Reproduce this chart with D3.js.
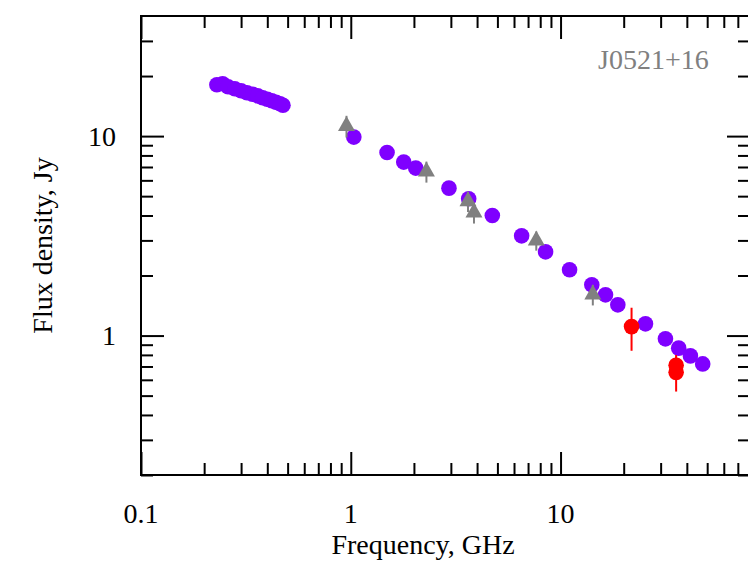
<!DOCTYPE html>
<html>
<head>
<meta charset="utf-8">
<script src="https://cdn.jsdelivr.net/npm/d3@7"></script>
<style>
  html, body { margin: 0; padding: 0; background: #fff; }
  svg { display: block; }
  text { font-family: "Liberation Serif", "Times New Roman", serif; }
</style>
</head>
<body>
<svg id="chart" width="748" height="561"></svg>
<script>
// Radio spectrum of J0521+16: frequency (GHz) vs flux density (Jy)

// Purple circles: compiled catalogue measurements
const purpleFreq = [0.230, 0.245, 0.260, 0.280, 0.300, 0.320, 0.340, 0.360, 0.380, 0.400, 0.420, 0.440, 0.460, 0.475,
                    1.034, 1.489, 1.788, 2.040, 2.938, 3.648, 4.729, 6.523, 8.484, 11.04, 14.09, 16.38, 18.75, 25.40, 31.62, 36.58, 41.59, 47.6];
const purpleFlux = [18.08, 18.29, 17.67, 17.27, 16.87, 16.49, 16.21, 15.93, 15.57, 15.30, 15.04, 14.77, 14.52, 14.27,
                    9.886, 8.274, 7.407, 6.912, 5.484, 4.849, 3.999, 3.162, 2.629, 2.136, 1.796, 1.600, 1.426, 1.145, 0.963, 0.865, 0.791, 0.721];

// Grey triangles: measurements with error bars
const greyFreq = [0.954, 2.294, 3.620, 3.866, 7.662, 14.25];
const greyFlux = [11.24, 6.645, 4.71, 4.144, 2.995, 1.606];
const greyErr  = [1.40, 0.80, 0.55, 0.50, 0.33, 0.19];

// Red circles: new measurements with error bars
const redFreq = [21.8, 35.56, 35.56];
const redFlux = [1.109, 0.709, 0.654];
const redErr  = [0.27, 0.09, 0.13];

// Axis ticks
const xMajor = [0.1, 1, 10];
const xMajorLabels = ["0.1", "1", "10"];
const xMinor = [0.2, 0.3, 0.4, 0.5, 0.6, 0.7, 0.8, 0.9, 2, 3, 4, 5, 6, 7, 8, 9, 20, 30, 40, 50, 60, 70];
const yMajor = [1, 10];
const yMajorLabels = ["1", "10"];
const yMinor = [0.2, 0.3, 0.4, 0.5, 0.6, 0.7, 0.8, 0.9, 2, 3, 4, 5, 6, 7, 8, 9, 20, 30];

const sourceName = "J0521+16";
const xTitle = "Frequency, GHz";
const yTitle = "Flux density, Jy";

const svg = d3.select("#chart");
const plot = { left: 141, right: 750, top: 16, bottom: 475 };

const x = d3.scaleLog().domain([0.1, 80]).range([plot.left, plot.right]);
const y = d3.scaleLog().domain([0.2, 40]).range([plot.bottom, plot.top]);

const FONT = 28;
const majorLen = 23, minorLen = 12;

// Tick marks, all pointing inward on the four sides
function tickAxis(gen, scale, values, len, transform) {
  const g = svg.append("g")
    .attr("transform", transform)
    .call(gen(scale).tickValues(values).tickSize(-len).tickSizeOuter(0).tickFormat(""));
  g.select(".domain").remove();
  g.selectAll(".tick line").attr("stroke", "#000").attr("stroke-width", 2);
  return g;
}
tickAxis(d3.axisBottom, x, xMajor, majorLen, `translate(0,${plot.bottom})`);
tickAxis(d3.axisBottom, x, xMinor, minorLen, `translate(0,${plot.bottom})`);
tickAxis(d3.axisTop, x, xMajor, majorLen, `translate(0,${plot.top})`);
tickAxis(d3.axisTop, x, xMinor, minorLen, `translate(0,${plot.top})`);
tickAxis(d3.axisLeft, y, yMajor, majorLen, `translate(${plot.left},0)`);
tickAxis(d3.axisLeft, y, yMinor, minorLen, `translate(${plot.left},0)`);
tickAxis(d3.axisRight, y, yMajor, majorLen, `translate(${plot.right},0)`);
tickAxis(d3.axisRight, y, yMinor, minorLen, `translate(${plot.right},0)`);

// Frame
svg.append("rect")
  .attr("x", plot.left).attr("y", plot.top)
  .attr("width", plot.right - plot.left).attr("height", plot.bottom - plot.top)
  .attr("fill", "none").attr("stroke", "#000").attr("stroke-width", 2);

// Tick labels
svg.append("g").selectAll("text")
  .data(xMajor)
  .join("text")
  .attr("x", d => x(d))
  .attr("y", 523)
  .attr("text-anchor", "middle")
  .attr("font-size", FONT)
  .attr("fill", "#000")
  .text((d, i) => xMajorLabels[i]);

svg.append("g").selectAll("text")
  .data(yMajor)
  .join("text")
  .attr("x", 116)
  .attr("y", d => y(d) + 9.5)
  .attr("text-anchor", "end")
  .attr("font-size", FONT)
  .attr("fill", "#000")
  .text((d, i) => yMajorLabels[i]);

// Axis titles
svg.append("text")
  .attr("x", 423).attr("y", 554)
  .attr("text-anchor", "middle")
  .attr("font-size", FONT)
  .attr("fill", "#000")
  .text(xTitle);

svg.append("text")
  .attr("transform", `translate(52,${(plot.top + plot.bottom) / 2}) rotate(-90)`)
  .attr("text-anchor", "middle")
  .attr("font-size", FONT)
  .attr("fill", "#000")
  .text(yTitle);

// Source name
svg.append("text")
  .attr("x", 598).attr("y", 69)
  .attr("font-size", FONT)
  .attr("fill", "#808080")
  .text(sourceName);

const R = 7.8;
const purple = "#7f00ff", grey = "#808080", red = "#ff0000";

// Purple circles
svg.append("g").selectAll("circle")
  .data(purpleFreq.map((f, i) => ({ f, s: purpleFlux[i] })))
  .join("circle")
  .attr("cx", d => x(d.f))
  .attr("cy", d => y(d.s))
  .attr("r", R)
  .attr("fill", purple);

// Grey triangles with error bars
const greyData = greyFreq.map((f, i) => ({ f, s: greyFlux[i], e: greyErr[i] }));
const gGrey = svg.append("g");
gGrey.selectAll("line")
  .data(greyData)
  .join("line")
  .attr("x1", d => x(d.f)).attr("x2", d => x(d.f))
  .attr("y1", d => y(d.s + d.e)).attr("y2", d => y(d.s - d.e))
  .attr("stroke", grey).attr("stroke-width", 2);
const tri = "M0,-10L8.5,5L-8.5,5Z";
gGrey.selectAll("path")
  .data(greyData)
  .join("path")
  .attr("d", tri)
  .attr("transform", d => `translate(${x(d.f)},${y(d.s)})`)
  .attr("fill", grey);

// Red circles with error bars
const redData = redFreq.map((f, i) => ({ f, s: redFlux[i], e: redErr[i] }));
const gRed = svg.append("g");
gRed.selectAll("line")
  .data(redData)
  .join("line")
  .attr("x1", d => x(d.f)).attr("x2", d => x(d.f))
  .attr("y1", d => y(d.s + d.e)).attr("y2", d => y(d.s - d.e))
  .attr("stroke", red).attr("stroke-width", 2);
gRed.selectAll("circle")
  .data(redData)
  .join("circle")
  .attr("cx", d => x(d.f))
  .attr("cy", d => y(d.s))
  .attr("r", R)
  .attr("fill", red);
</script>
</body>
</html>
